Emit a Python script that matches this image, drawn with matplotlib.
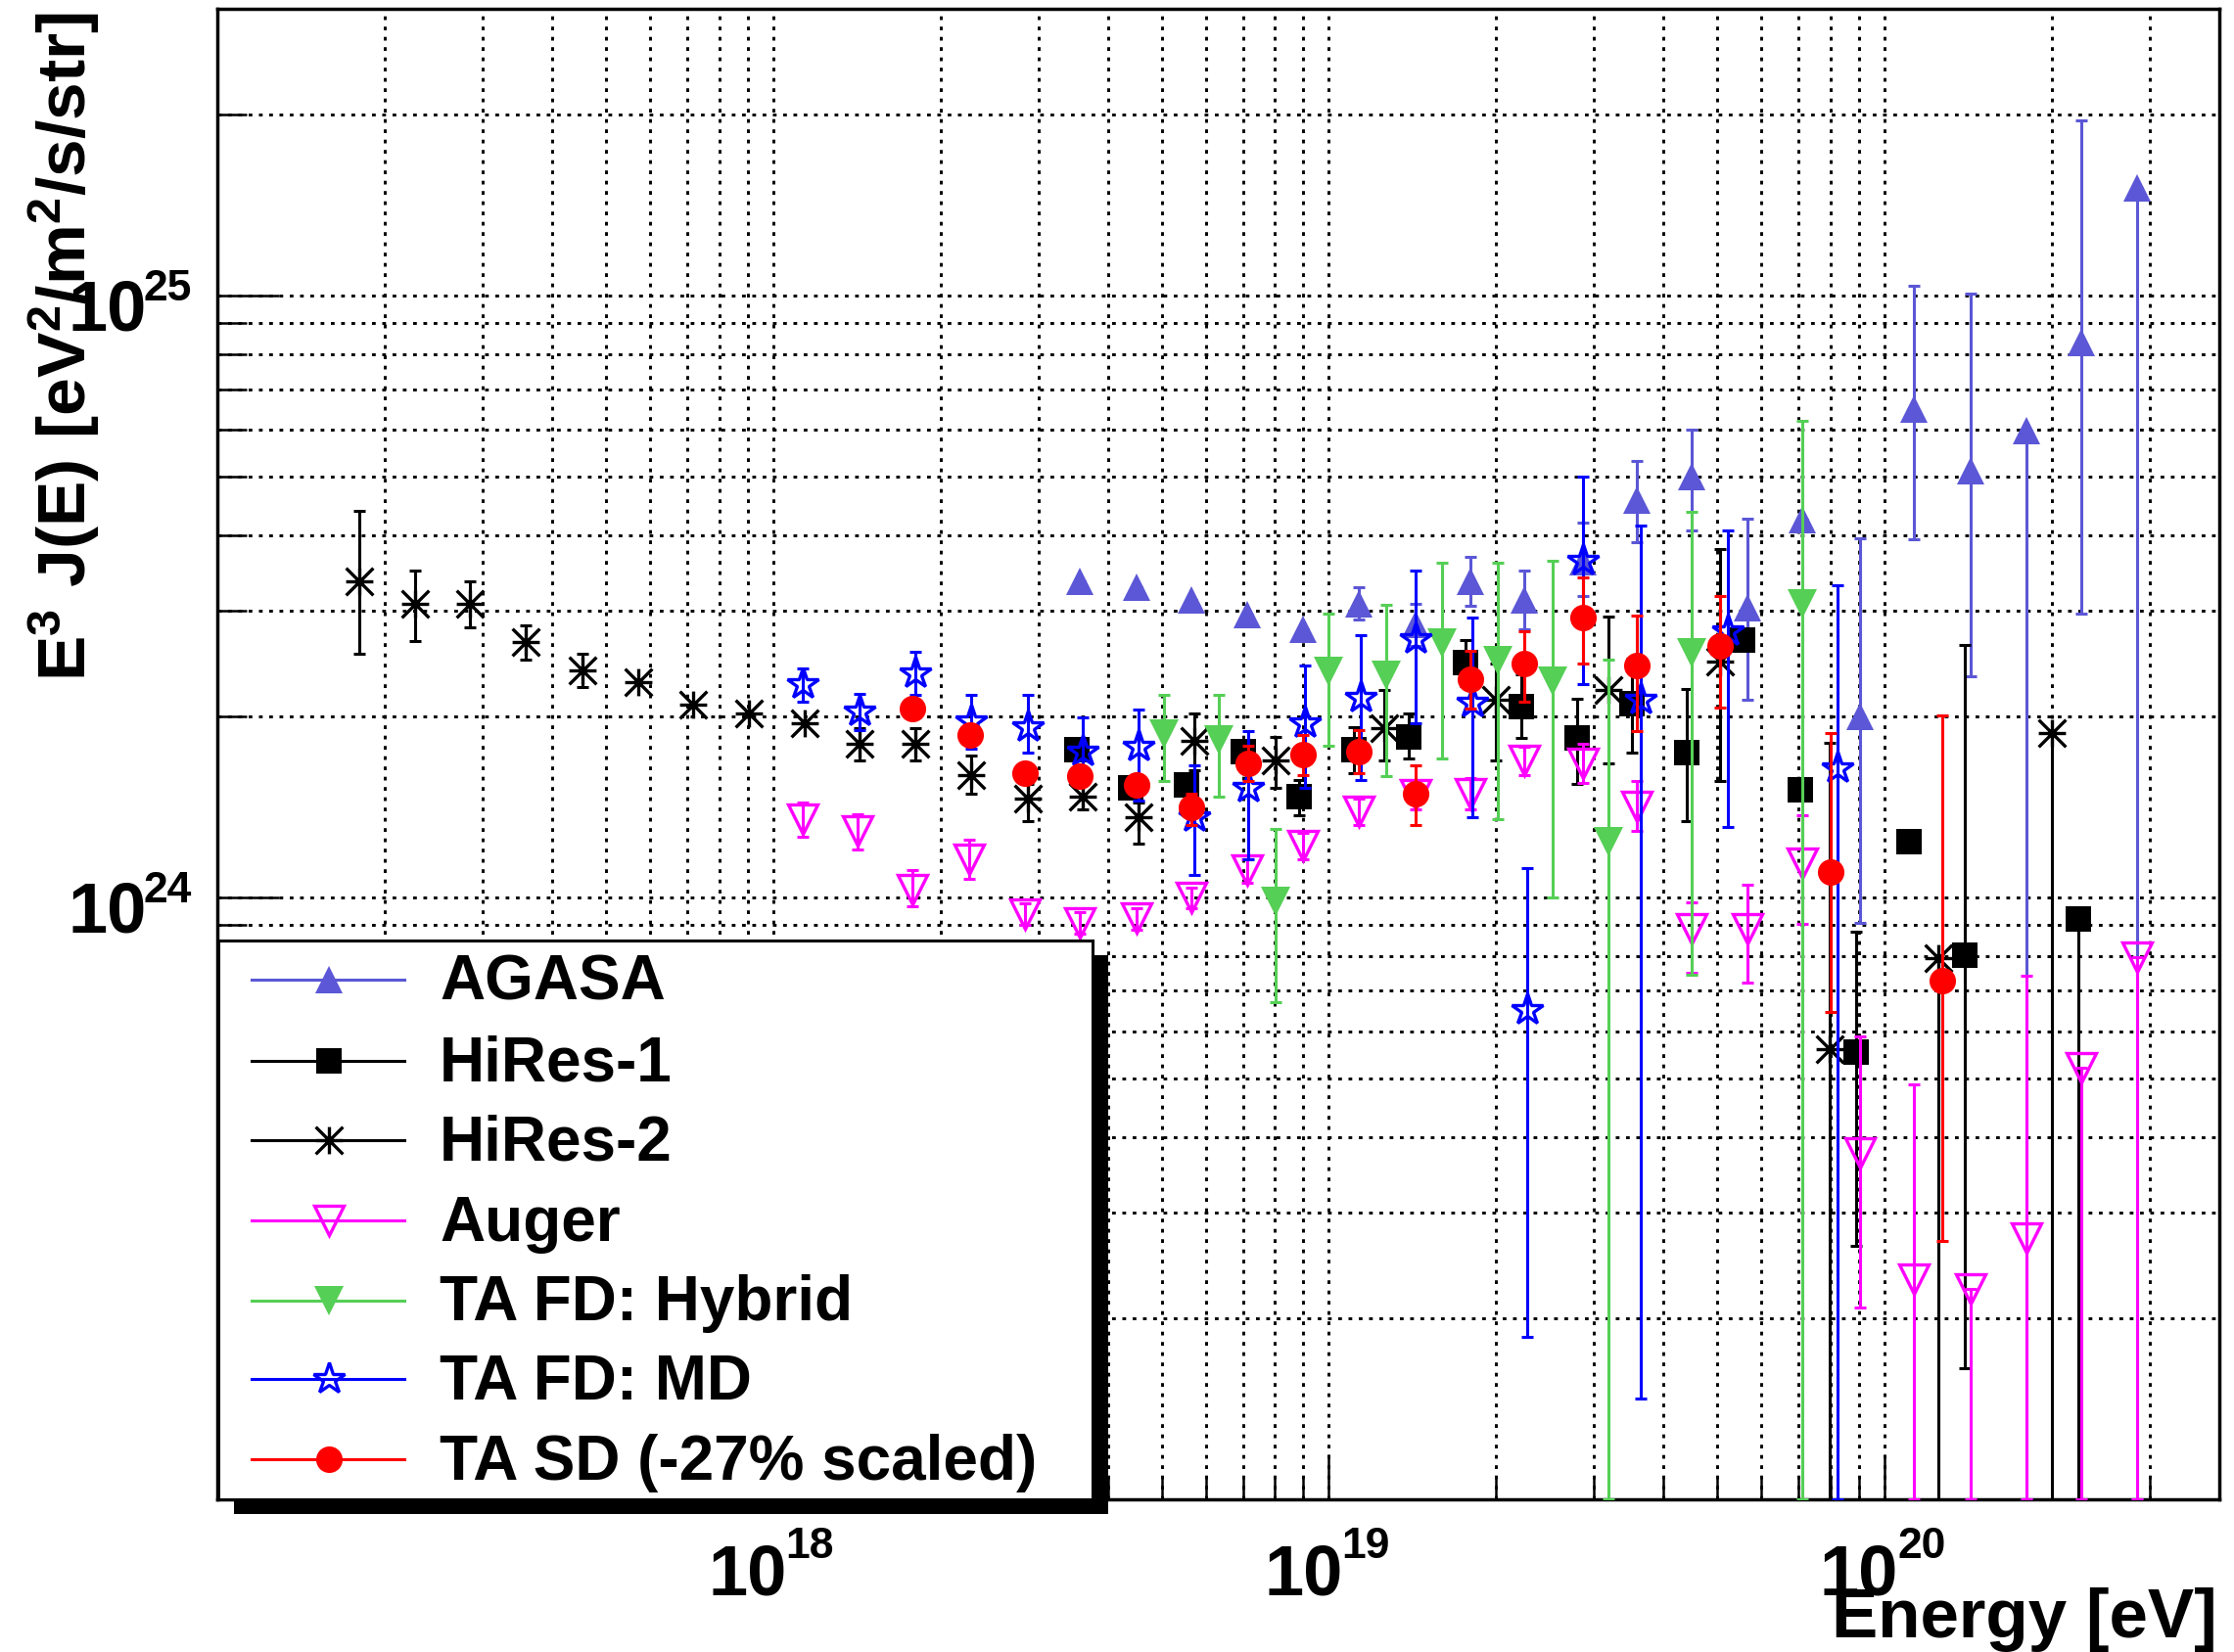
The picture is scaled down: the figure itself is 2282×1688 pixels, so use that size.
import numpy as np
from matplotlib import pyplot as plt
from matplotlib import transforms
from matplotlib.path import Path
from matplotlib.patches import Rectangle

plt.rcParams['font.family'] = ['Liberation Sans', 'DejaVu Sans']
plt.rcParams['font.weight'] = 'bold'
plt.rcParams['mathtext.fontset'] = 'custom'
for key in ('rm', 'it', 'bf', 'sf'):
    plt.rcParams['mathtext.' + key] = 'Liberation Sans:bold'

# ---- spectra: energy [eV], E^3 J(E) and the lower / upper error limits ----
agasa_e = [3.56e18, 4.50e18, 5.65e18, 7.12e18, 8.97e18, 1.13e19, 1.43e19, 1.80e19, 2.25e19, 2.86e19,
           3.58e19, 4.50e19, 5.67e19, 7.12e19, 9.02e19, 1.13e20, 1.43e20, 1.80e20, 2.26e20, 2.85e20]
agasa_f = [3.35e24, 3.28e24, 3.12e24, 2.95e24, 2.79e24, 3.08e24, 2.84e24, 3.36e24, 3.12e24, 3.62e24,
           4.58e24, 5.01e24, 3.03e24, 4.24e24, 2.00e24, 6.49e24, 5.13e24, 5.98e24, 8.37e24, 1.51e25]
agasa_lo = [3.35e24, 3.28e24, 3.12e24, 2.95e24, 2.79e24, 2.90e24, 2.62e24, 3.06e24, 2.79e24, 3.17e24,
            3.90e24, 4.07e24, 2.13e24, 4.24e24, 9.08e23, 3.94e24, 2.33e24, 1.00e23, 2.97e24, 1.00e23]
agasa_hi = [3.35e24, 3.28e24, 3.12e24, 2.95e24, 2.79e24, 3.28e24, 3.08e24, 3.69e24, 3.49e24, 4.20e24,
            5.31e24, 6.00e24, 4.27e24, 4.24e24, 3.95e24, 1.04e25, 1.01e25, 5.98e24, 1.96e25, 1.51e25]

hires1_e = [3.52e18, 4.40e18, 5.54e18, 7.01e18, 8.85e18, 1.11e19, 1.39e19, 1.76e19, 2.22e19, 2.80e19,
            3.51e19, 4.41e19, 5.56e19, 7.04e19, 8.87e19, 1.107e20, 1.395e20, 2.23e20]
hires1_f = [1.76e24, 1.52e24, 1.54e24, 1.75e24, 1.47e24, 1.76e24, 1.85e24, 2.46e24, 2.08e24, 1.84e24,
            2.10e24, 1.74e24, 2.68e24, 1.51e24, 5.54e23, 1.24e24, 8.03e23, 9.23e23]
hires1_lo = [1.76e24, 1.52e24, 1.54e24, 1.75e24, 1.37e24, 1.61e24, 1.70e24, 2.25e24, 1.84e24, 1.545e24,
             1.74e24, 1.34e24, 2.68e24, 1.51e24, 2.64e23, 1.24e24, 1.65e23, 1.00e23]
hires1_hi = [1.76e24, 1.52e24, 1.54e24, 1.75e24, 1.57e24, 1.92e24, 2.02e24, 2.68e24, 2.35e24, 2.14e24,
             2.50e24, 2.22e24, 2.68e24, 1.51e24, 8.77e23, 1.24e24, 2.63e24, 9.23e23]

hires2_e = [1.80e17, 2.27e17, 2.85e17, 3.59e17, 4.54e17, 5.71e17, 7.17e17, 9.05e17, 1.14e18, 1.43e18,
            1.80e18, 2.27e18, 2.87e18, 3.61e18, 4.54e18, 5.73e18, 8.01e18, 1.26e19, 2.00e19, 3.19e19,
            5.06e19, 7.96e19, 1.25e20, 2.00e20]
hires2_f = [3.36e24, 3.08e24, 3.08e24, 2.66e24, 2.39e24, 2.28e24, 2.09e24, 2.02e24, 1.95e24, 1.80e24,
            1.80e24, 1.60e24, 1.46e24, 1.47e24, 1.36e24, 1.82e24, 1.69e24, 1.91e24, 2.13e24, 2.21e24,
            2.47e24, 5.60e23, 7.92e23, 1.88e24]
hires2_lo = [2.54e24, 2.67e24, 2.81e24, 2.49e24, 2.24e24, 2.28e24, 2.09e24, 2.02e24, 1.95e24, 1.69e24,
             1.69e24, 1.49e24, 1.34e24, 1.40e24, 1.23e24, 1.63e24, 1.52e24, 1.69e24, 1.69e24, 1.67e24,
             1.56e24, 1.00e23, 1.00e23, 1.00e23]
hires2_hi = [4.39e24, 3.50e24, 3.36e24, 2.83e24, 2.54e24, 2.28e24, 2.09e24, 2.02e24, 1.95e24, 1.91e24,
             1.91e24, 1.72e24, 1.545e24, 1.55e24, 1.44e24, 2.02e24, 1.85e24, 2.21e24, 2.45e24, 2.93e24,
             3.80e24, 1.81e24, 7.92e23, 1.88e24]

auger_e = [1.13e18, 1.42e18, 1.78e18, 2.25e18, 2.84e18, 3.56e18, 4.50e18, 5.65e18, 7.12e18, 8.97e18,
           1.13e19, 1.43e19, 1.80e19, 2.25e19, 2.86e19, 3.58e19, 4.50e19, 5.67e19, 7.12e19, 9.02e19,
           1.13e20, 1.43e20, 1.80e20, 2.26e20, 2.85e20]
auger_f = [1.35e24, 1.29e24, 1.03e24, 1.16e24, 9.40e23, 9.08e23, 9.24e23, 1.00e24, 1.11e24, 1.22e24,
           1.39e24, 1.48e24, 1.49e24, 1.69e24, 1.67e24, 1.42e24, 8.87e23, 8.87e23, 1.14e24, 3.77e23,
           2.32e23, 2.24e23, 2.72e23, 5.22e23, 7.95e23]
auger_lo = [1.26e24, 1.20e24, 9.66e23, 1.075e24, 9.00e23, 8.70e23, 8.85e23, 9.60e23, 1.06e24, 1.16e24,
            1.32e24, 1.40e24, 1.40e24, 1.60e24, 1.55e24, 1.29e24, 7.49e23, 7.22e23, 9.03e23, 2.08e23,
            1.00e23, 1.00e23, 1.00e23, 1.00e23, 1.00e23]
auger_hi = [1.44e24, 1.375e24, 1.11e24, 1.25e24, 9.80e23, 9.45e23, 9.60e23, 1.04e24, 1.16e24, 1.28e24,
            1.46e24, 1.56e24, 1.58e24, 1.78e24, 1.80e24, 1.56e24, 9.83e23, 1.05e24, 1.37e24, 5.89e23,
            4.90e23, 2.24e23, 7.42e23, 5.22e23, 7.95e23]

hybrid_e = [5.04e18, 6.33e18, 8.01e18, 1.00e19, 1.27e19, 1.60e19, 2.01e19, 2.53e19, 3.19e19, 4.50e19, 7.12e19]
hybrid_f = [1.87e24, 1.83e24, 9.84e23, 2.38e24, 2.34e24, 2.65e24, 2.48e24, 2.29e24, 1.24e24, 2.55e24, 3.08e24]
hybrid_lo = [1.56e24, 1.47e24, 6.71e23, 1.79e24, 1.59e24, 1.70e24, 1.35e24, 1.00e24, 1.00e23, 7.45e23, 1.00e23]
hybrid_hi = [2.17e24, 2.17e24, 1.30e24, 2.96e24, 3.07e24, 3.60e24, 3.60e24, 3.63e24, 2.49e24, 4.38e24, 6.20e24]

md_e = [1.13e18, 1.43e18, 1.80e18, 2.27e18, 2.87e18, 3.61e18, 4.54e18, 5.73e18, 7.15e18, 9.04e18,
        1.14e19, 1.43e19, 1.81e19, 2.27e19, 2.87e19, 3.64e19, 5.22e19, 8.24e19]
md_f = [2.26e24, 2.04e24, 2.36e24, 1.96e24, 1.92e24, 1.75e24, 1.78e24, 1.36e24, 1.52e24, 1.95e24,
        2.15e24, 2.69e24, 2.11e24, 6.50e23, 3.63e24, 2.13e24, 2.77e24, 1.64e24]
md_lo = [2.12e24, 1.90e24, 2.17e24, 1.77e24, 1.74e24, 1.55e24, 1.45e24, 1.09e24, 1.16e24, 1.52e24,
         1.57e24, 1.95e24, 1.36e24, 1.86e23, 2.26e24, 1.47e23, 1.31e24, 1.00e23]
md_hi = [2.40e24, 2.18e24, 2.56e24, 2.17e24, 2.17e24, 1.99e24, 2.05e24, 1.66e24, 1.89e24, 2.43e24,
         2.73e24, 3.49e24, 2.92e24, 1.12e24, 5.01e24, 4.16e24, 4.07e24, 3.31e24]

sd_e = [1.78e18, 2.26e18, 2.84e18, 3.56e18, 4.50e18, 5.65e18, 7.15e18, 9.00e18, 1.13e19, 1.43e19,
        1.80e19, 2.25e19, 2.86e19, 3.58e19, 5.06e19, 8.01e19, 1.27e20]
sd_f = [2.06e24, 1.86e24, 1.61e24, 1.59e24, 1.54e24, 1.41e24, 1.67e24, 1.73e24, 1.75e24, 1.49e24,
        2.31e24, 2.45e24, 2.92e24, 2.43e24, 2.62e24, 1.105e24, 7.27e23]
sd_lo = [2.06e24, 1.86e24, 1.61e24, 1.59e24, 1.54e24, 1.32e24, 1.56e24, 1.60e24, 1.61e24, 1.32e24,
         2.06e24, 2.12e24, 2.45e24, 1.89e24, 2.07e24, 6.46e23, 2.69e23]
sd_hi = [2.06e24, 1.86e24, 1.61e24, 1.59e24, 1.54e24, 1.49e24, 1.79e24, 1.865e24, 1.90e24, 1.66e24,
         2.57e24, 2.77e24, 3.40e24, 2.94e24, 3.17e24, 1.88e24, 2.01e24]

x_decades = [18, 19, 20]
y_decades = [24, 25]

# ROOT style "*" marker: cross plus diagonals to the corners
asterisk = Path([(-1, 0), (1, 0), (0, -1), (0, 1), (-1, -1), (1, 1), (-1, 1), (1, -1)],
                [Path.MOVETO, Path.LINETO] * 4)

agasa_col = '#5b57d6'
hybrid_col = '#55cf55'

series = [
    ('AGASA', agasa_e, agasa_f, agasa_lo, agasa_hi,
     dict(color=agasa_col, marker='^', mfc=agasa_col, ms=20, mew=0)),
    ('HiRes-1', hires1_e, hires1_f, hires1_lo, hires1_hi,
     dict(color='black', marker='s', mfc='black', ms=19, mew=0)),
    ('HiRes-2', hires2_e, hires2_f, hires2_lo, hires2_hi,
     dict(color='black', marker=asterisk, mfc='none', ms=20, mew=2.4)),
    ('Auger', auger_e, auger_f, auger_lo, auger_hi,
     dict(color='#ff00ff', marker='v', mfc='none', ms=21, mew=2.4)),
    ('TA FD: Hybrid', hybrid_e, hybrid_f, hybrid_lo, hybrid_hi,
     dict(color=hybrid_col, marker='v', mfc=hybrid_col, ms=21, mew=0)),
    ('TA FD: MD', md_e, md_f, md_lo, md_hi,
     dict(color='#0000ff', marker='*', mfc='none', ms=24, mew=2.4)),
    ('TA SD (-27% scaled)', sd_e, sd_f, sd_lo, sd_hi,
     dict(color='#ff0000', marker='o', mfc='#ff0000', ms=19.5, mew=0)),
]

W, H = 2282, 1688
fig = plt.figure(figsize=(W / 100, H / 100), dpi=100)

# frame edges in pixels (y measured from the top)
fx0, fx1, fy0, fy1 = 222, 2267, 9, 1532
ax = fig.add_axes([fx0 / W, 1 - fy1 / H, (fx1 - fx0) / W, (fy1 - fy0) / H])
ax.set_xscale('log')
ax.set_yscale('log')
ax.set_xlim(1e17, 4e20)
ax.set_ylim(1e23, 3e25)
ax.set_axisbelow(True)

for i, (label, e, f, lo, hi, st) in enumerate(series):
    f = np.array(f)
    yerr = [f - np.array(lo), np.array(hi) - f]
    ax.errorbar(e, f, yerr=yerr, fmt='none', ecolor=st['color'], elinewidth=2.2,
                capsize=4.3, capthick=2.2, zorder=3 + i)
    ax.plot(e, f, ls='none', marker=st['marker'], ms=st['ms'], mfc=st['mfc'],
            mec=st['color'], mew=st['mew'], zorder=3.5 + i)

# ticks and dotted grid on every decade subdivision
ax.xaxis.set_minor_locator(plt.LogLocator(base=10, subs=np.arange(2, 10), numticks=20))
ax.yaxis.set_minor_locator(plt.LogLocator(base=10, subs=np.arange(2, 10), numticks=20))
ax.xaxis.set_minor_formatter(plt.NullFormatter())
ax.yaxis.set_minor_formatter(plt.NullFormatter())
ax.set_xticks([10.0 ** d for d in x_decades])
ax.set_xticklabels([])
ax.set_yticks([10.0 ** d for d in y_decades])
ax.set_yticklabels([])
ax.tick_params(which='both', direction='in', top=False, right=False, width=1.8, color='black')
ax.tick_params(axis='x', which='major', length=33)
ax.tick_params(axis='x', which='minor', length=16)
ax.tick_params(axis='y', which='major', length=45)
ax.tick_params(axis='y', which='minor', length=21.5)
ax.grid(True, which='both', color='black', linestyle=(0, (1.3, 2.3)), linewidth=2.1)
for s in ax.spines.values():
    s.set_linewidth(2.5)


def shifted(base, dx, dy):
    # offset a transform by a number of pixels (dpi 100)
    return base + transforms.ScaledTranslation(dx / 100, dy / 100, fig.dpi_scale_trans)


# decade labels drawn as "10" with a small raised exponent
xt = ax.get_xaxis_transform()
for d in x_decades:
    ax.text(10.0 ** d, 0, '10', transform=shifted(xt, 14, -98), ha='right', va='baseline',
            fontsize=52, fontweight='bold', clip_on=False)
    ax.text(10.0 ** d, 0, str(d), transform=shifted(xt, 13, -60), ha='left', va='baseline',
            fontsize=32, fontweight='bold', clip_on=False)
yt = transforms.blended_transform_factory(fig.transFigure, ax.transData)
for d in y_decades:
    ax.text(150 / W, 10.0 ** d, '10', transform=shifted(yt, 0, -35), ha='right', va='baseline',
            fontsize=52, fontweight='bold', clip_on=False)
    ax.text(146 / W, 10.0 ** d, str(d), transform=shifted(yt, 0, -4.5), ha='left', va='baseline',
            fontsize=32, fontweight='bold', clip_on=False)

# axis titles
fig.text(88 / W, 1 - 12 / H, r'$\mathbf{E^{3}\ J(E)\ [eV^{2}/m^{2}/s/str]}$', rotation=90,
         rotation_mode='anchor', ha='right', va='baseline', fontsize=50)
fig.text(2265 / W, 15 / H, 'Energy [eV]', ha='right', va='baseline', fontsize=51, fontweight='bold')

# legend box with a solid drop shadow
lx0, ly0, lx1, ly1 = 223, 961, 1116, 1532
lw_, lh_ = lx1 - lx0, ly1 - ly0
fig.add_artist(Rectangle(((lx0 + 16) / W, 1 - (ly1 + 15) / H), lw_ / W, lh_ / H,
                         transform=fig.transFigure, facecolor='black', edgecolor='none', zorder=2))
lax = fig.add_axes([lx0 / W, 1 - ly1 / H, lw_ / W, lh_ / H], zorder=3)
lax.set_xlim(0, lw_)
lax.set_ylim(lh_, 0)
lax.set_xticks([])
lax.set_yticks([])
lax.set_facecolor('white')
for s in lax.spines.values():
    s.set_linewidth(2.2)

rows = [40, 122.5, 203.5, 286, 367.5, 448, 530]
for (label, e, f, lo, hi, st), y in zip(series, rows):
    lax.plot([34, 190], [y, y], color=st['color'], lw=2.2)
    lax.plot([112.6], [y], ls='none', marker=st['marker'], ms=st['ms'], mfc=st['mfc'],
             mec=st['color'], mew=st['mew'])
    lax.text(226, y + 21, label, fontsize=46, fontweight='bold', va='baseline', ha='left')

fig.savefig('out.png', dpi=100)
